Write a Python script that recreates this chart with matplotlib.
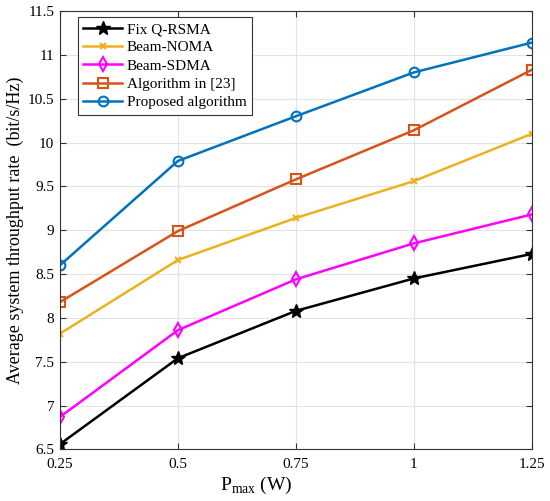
import numpy as np
import matplotlib.pyplot as plt

plt.rcParams['font.family'] = ['Liberation Serif', 'DejaVu Serif']
plt.rcParams['mathtext.fontset'] = 'custom'
plt.rcParams['mathtext.rm'] = 'Liberation Serif'
plt.rcParams['font.size'] = 11

# ---- data ----
p_max = [0.25, 0.5, 0.75, 1.0, 1.25]
fix_qrsma = [6.56, 7.54, 8.08, 8.45, 8.73]
beam_noma = [7.82, 8.66, 9.14, 9.56, 10.10]
beam_sdma = [6.87, 7.86, 8.44, 8.85, 9.18]
alg_23 = [8.18, 8.99, 9.58, 10.14, 10.83]
proposed = [8.60, 9.79, 10.30, 10.80, 11.14]

x_ticks = [0.25, 0.5, 0.75, 1, 1.25]
x_tick_labels = ["0.25", "0.5", "0.75", "1", "1.25"]
y_ticks = [6.5, 7, 7.5, 8, 8.5, 9, 9.5, 10, 10.5, 11, 11.5]
y_tick_labels = ["6.5", "7", "7.5", "8", "8.5", "9", "9.5", "10", "10.5", "11", "11.5"]

fig = plt.figure(figsize=(5.5, 5.01), dpi=100)
ax = fig.add_axes([0.109, 0.103, 0.858, 0.875])

ax.plot(p_max, fix_qrsma, color='k', marker='*', markersize=10, lw=1.8,
        label='Fix Q-RSMA')
ax.plot(p_max, beam_noma, color='#EDB120', marker='x', markersize=5, mew=1.5,
        lw=1.8, label='Beam-NOMA')
ax.plot(p_max, beam_sdma, color='#FF00FF', marker='d', markersize=7, mfc='none',
        mew=1.5, lw=1.8, label='Beam-SDMA')
ax.plot(p_max, alg_23, color='#D95319', marker='s', markersize=7, mfc='none',
        mew=1.5, lw=1.8, label='Algorithm in [23]')
ax.plot(p_max, proposed, color='#0072BD', marker='o', markersize=7, mfc='none',
        mew=1.5, lw=1.8, label='Proposed algorithm')

ax.set_xlim(0.25, 1.25)
ax.set_ylim(6.5, 11.5)
ax.set_xticks(x_ticks)
ax.set_xticklabels(x_tick_labels)
ax.set_yticks(y_ticks)
ax.set_yticklabels(y_tick_labels)
ax.tick_params(direction='in', top=True, right=True, length=4, labelsize=11,
               color='#333333')
ax.tick_params(axis='x', pad=6)
ax.tick_params(axis='y', pad=4)
ax.grid(True, color='#e3e3e3', lw=0.8)
ax.set_axisbelow(True)
for s in ax.spines.values():
    s.set_color('#333333')
    s.set_linewidth(0.8)

ax.set_xlabel(r'P$_{\mathrm{max}}$ (W)', fontsize=14)
ax.xaxis.set_label_coords(0.417, -0.058)
ax.set_ylabel('Average system throughput rate  (bit/s/Hz)', fontsize=13, labelpad=3)

leg = ax.legend(loc='upper left', bbox_to_anchor=(0.038, 0.986), fontsize=11,
                fancybox=False, framealpha=1, edgecolor='#333333',
                handlelength=2.55, borderpad=0.35, labelspacing=0.3,
                handletextpad=0.3, borderaxespad=0)
leg.get_frame().set_linewidth(0.8)

fig.savefig('out.png', dpi=100)
